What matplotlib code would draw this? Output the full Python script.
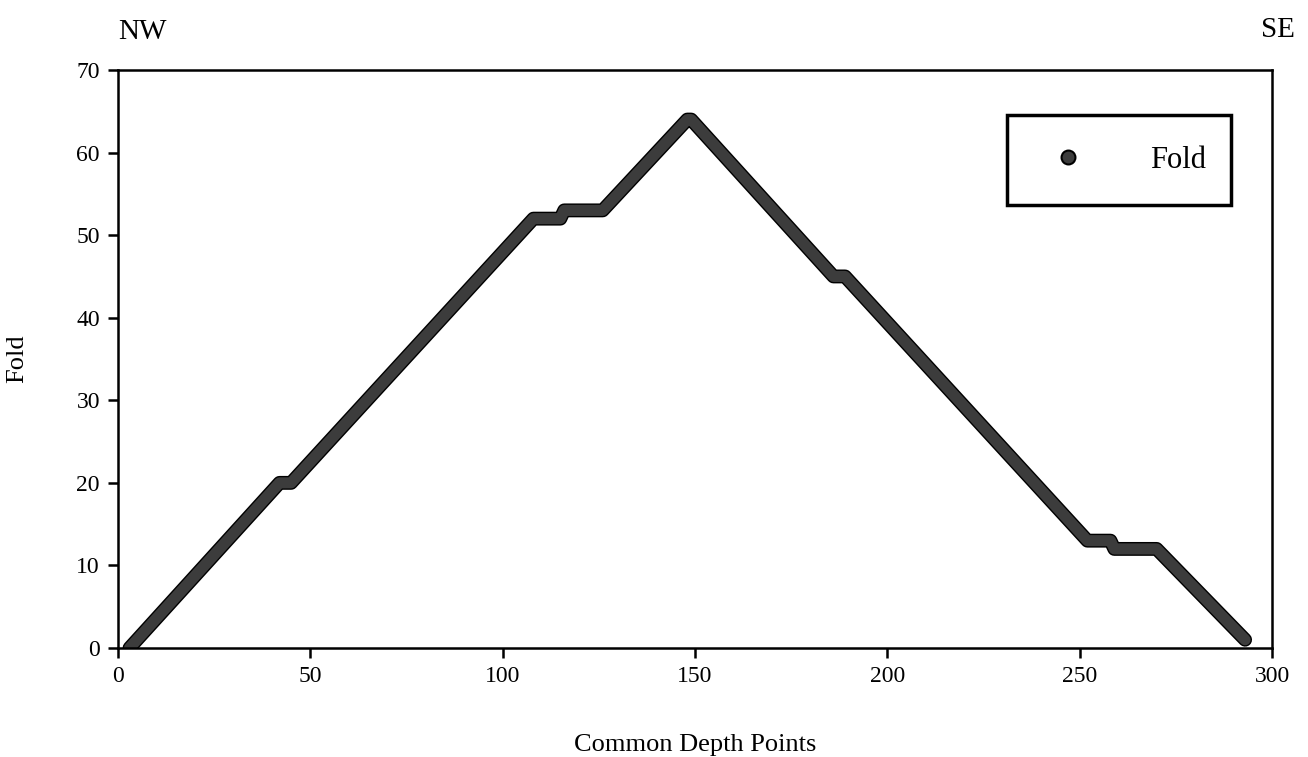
import matplotlib
matplotlib.use("Agg")
import matplotlib.pyplot as plt
import matplotlib.patheffects as pe
from matplotlib.lines import Line2D

# fold breakpoints (CDP, fold)
cdp = [3, 42, 45, 108, 115, 116, 126, 148, 149, 186, 189, 252, 258, 259, 270, 293]
fold = [0, 20, 20, 52, 52, 53, 53, 64, 64, 45, 45, 13, 13, 12, 12, 1]

x_ticks = [0, 50, 100, 150, 200, 250, 300]
y_ticks = [0, 10, 20, 30, 40, 50, 60, 70]

plt.rcParams['font.family'] = ['Liberation Serif', 'DejaVu Serif']

fig = plt.figure(figsize=(13.08, 7.57), dpi=100)
ax = fig.add_axes([0.0902, 0.144, 0.8823, 0.7635])

ax.plot(cdp, fold, color="#3c3c3c", linewidth=8, solid_capstyle="round",
        solid_joinstyle="round",
        path_effects=[pe.Stroke(linewidth=10, foreground="black"), pe.Normal()])

ax.set_xlim(0, 300)
ax.set_ylim(0, 70)
ax.set_xticks(x_ticks)
ax.set_yticks(y_ticks)
ax.tick_params(direction="out", length=7, width=1.8, labelsize=17, pad=6)
for s in ax.spines.values():
    s.set_linewidth(1.8)

ax.set_xlabel("Common Depth Points", fontsize=19, labelpad=34)
ax.set_ylabel("Fold", fontsize=19)
ax.yaxis.set_label_coords(-0.078, 0.5)

handle = Line2D([], [], linestyle="none", marker="o", markersize=10,
                markerfacecolor="#3c3c3c", markeredgecolor="black", markeredgewidth=1.5)
leg = ax.legend([handle], ["Fold"], loc="upper left",
                bbox_to_anchor=(0.770, 0.922, 0.1945, 0.0), mode="expand",
                fontsize=22, borderpad=1.0, handletextpad=1.7, handlelength=2.0,
                fancybox=False, framealpha=1, borderaxespad=0)
leg.get_frame().set_edgecolor("black")
leg.get_frame().set_linewidth(2.5)

fig.text(0.0902, 0.958, "NW", fontsize=21, ha="left", va="center")
fig.text(0.99, 0.961, "SE", fontsize=21, ha="right", va="center")

fig.savefig("out.png", dpi=100)
